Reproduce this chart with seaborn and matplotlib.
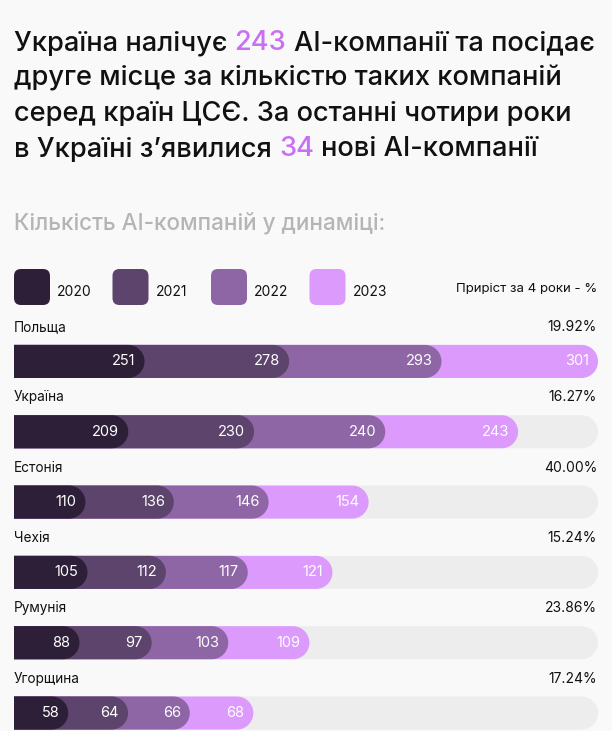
import numpy as np
import pandas as pd
import matplotlib.pyplot as plt
import seaborn as sns
from matplotlib.patches import Polygon, FancyBboxPatch

countries = ["Польща", "Україна", "Естонія", "Чехія", "Румунія", "Угорщина"]
years = ["2020", "2021", "2022", "2023"]
v2020 = [251, 209, 110, 105, 88, 58]
v2021 = [278, 230, 136, 112, 97, 64]
v2022 = [293, 240, 146, 117, 103, 66]
v2023 = [301, 243, 154, 121, 109, 68]
growth = ["19.92%", "16.27%", "40.00%", "15.24%", "23.86%", "17.24%"]

colors = {"2020": "#2d1f38", "2021": "#5d446c", "2022": "#8e66a5", "2023": "#dc9afc"}
accent = "#c96ff2"
bg = "#f9f9f9"
track = "#ededed"
ink = "#111111"

sns.set_theme(style="white")
plt.rcParams["font.family"] = ["Inter", "DejaVu Sans"]

W, H = 612, 731
fig = plt.figure(figsize=(W / 100, H / 100), dpi=100, facecolor=bg)

# overlay in pixel units for the header and legend
ov = fig.add_axes([0, 0, 1, 1])
ov.set_xlim(0, W)
ov.set_ylim(H, 0)
ov.axis("off")

renderer = fig.canvas.get_renderer()


def text_width(s, size, weight):
    t = ov.text(0, 0, s, fontsize=size, fontweight=weight)
    w = t.get_window_extent(renderer).width
    t.remove()
    return w


def colored_line(x, y, pieces, size, weight="medium"):
    gap = text_width("a a", size, weight) - text_width("aa", size, weight)
    for s, c in pieces:
        t = ov.text(x, y, s, fontsize=size, color=c, va="baseline", ha="left", fontweight=weight)
        x += t.get_window_extent(renderer).width + gap


tsize = 19.6
colored_line(14, 50, [("Україна налічує", ink), ("243", accent), ("AI-компанії та посідає", ink)], tsize)
colored_line(14, 85.5, [("друге місце за кількістю таких компаній", ink)], tsize)
colored_line(14, 121, [("серед країн ЦСЄ. За останні чотири роки", ink)], tsize)
colored_line(14, 156.5, [("в Україні з’явилися", ink), ("34", accent), ("нові AI-компанії", ink)], tsize)

ov.text(14, 230, "Кількість AI-компаній у динаміці:", fontsize=16.2, color="#b5b5b5",
        va="baseline", fontweight="medium")

# legend
for k, yr in enumerate(years):
    x0 = 14 + 98.5 * k
    r = 7
    ov.add_patch(FancyBboxPatch((x0 + r, 269 + r), 36 - 2 * r, 36 - 2 * r,
                                boxstyle=f"round,pad={r}", fc=colors[yr], ec="none"))
    ov.text(x0 + 43, 292, yr, fontsize=10, color=ink, va="center", ha="left")
ov.text(597, 289, "Приріст за 4 роки - %", fontsize=9.5, color=ink, va="center", ha="right")

# stacked bars: each row is spread over a slightly wider scale, as in the design
vals = np.array([v2020, v2021, v2022, v2023], dtype=float)
row_pad = 346
sums = vals.sum(axis=0)
scale = (sums + row_pad) / sums
ends = np.cumsum(vals, axis=0) * scale

df = pd.DataFrame({
    "country": np.tile(countries, len(years)),
    "year": np.repeat(years, len(countries)),
    "end": ends.ravel(),
})

top_px = 300
bar_h = 0.47
ax = fig.add_axes([14 / W, 0, 584 / W, (H - top_px) / H])
ax.set_facecolor("none")
sns.barplot(data=df, y="country", x="end", hue="year", order=countries,
            hue_order=years[::-1], palette=colors, dodge=False, width=bar_h,
            saturation=1, errorbar=None, legend=False, linewidth=0, ax=ax)

xmax = ends[-1].max()
pitch = 70.4
ax.set_xlim(0, xmax)
ax.set_ylim(5 + (H - 713) / pitch, -(361.5 - top_px) / pitch)
ax.axis("off")

ux = xmax / 584  # data units per pixel along x


def rounded(x0, x1, yc, h, color, z):
    rx = (h / 2) * pitch * ux
    t = np.linspace(-np.pi / 2, np.pi / 2, 40)
    arc = np.column_stack([x1 - rx + rx * np.cos(t), yc + (h / 2) * np.sin(t)])
    pts = np.vstack([[x0, yc - h / 2], arc, [x0, yc + h / 2]])
    ax.add_patch(Polygon(pts, closed=True, fc=color, ec="none", zorder=z))


rects = list(ax.patches)
for n, p in enumerate(rects):
    x0, y0, w, h = p.get_x(), p.get_y(), p.get_width(), p.get_height()
    fc = p.get_facecolor()
    p.remove()
    rounded(x0, x0 + w, y0 + h / 2, h, fc, 3 + n * 0.01)

for i, name in enumerate(countries):
    rounded(0, xmax, i, bar_h, track, 1)
    ax.text(0, i - 0.49, name, fontsize=9.8, color=ink, ha="left", va="center")
    ax.text(xmax - 1 * ux, i - 0.49, growth[i], fontsize=10, color=ink, ha="right", va="center")
    for k in range(len(years)):
        ax.text(ends[k, i] - 9 * ux, i, f"{int(vals[k, i])}", fontsize=10.5,
                color="white", ha="right", va="center", zorder=10)

fig.savefig("out.png", dpi=100, facecolor=bg)
